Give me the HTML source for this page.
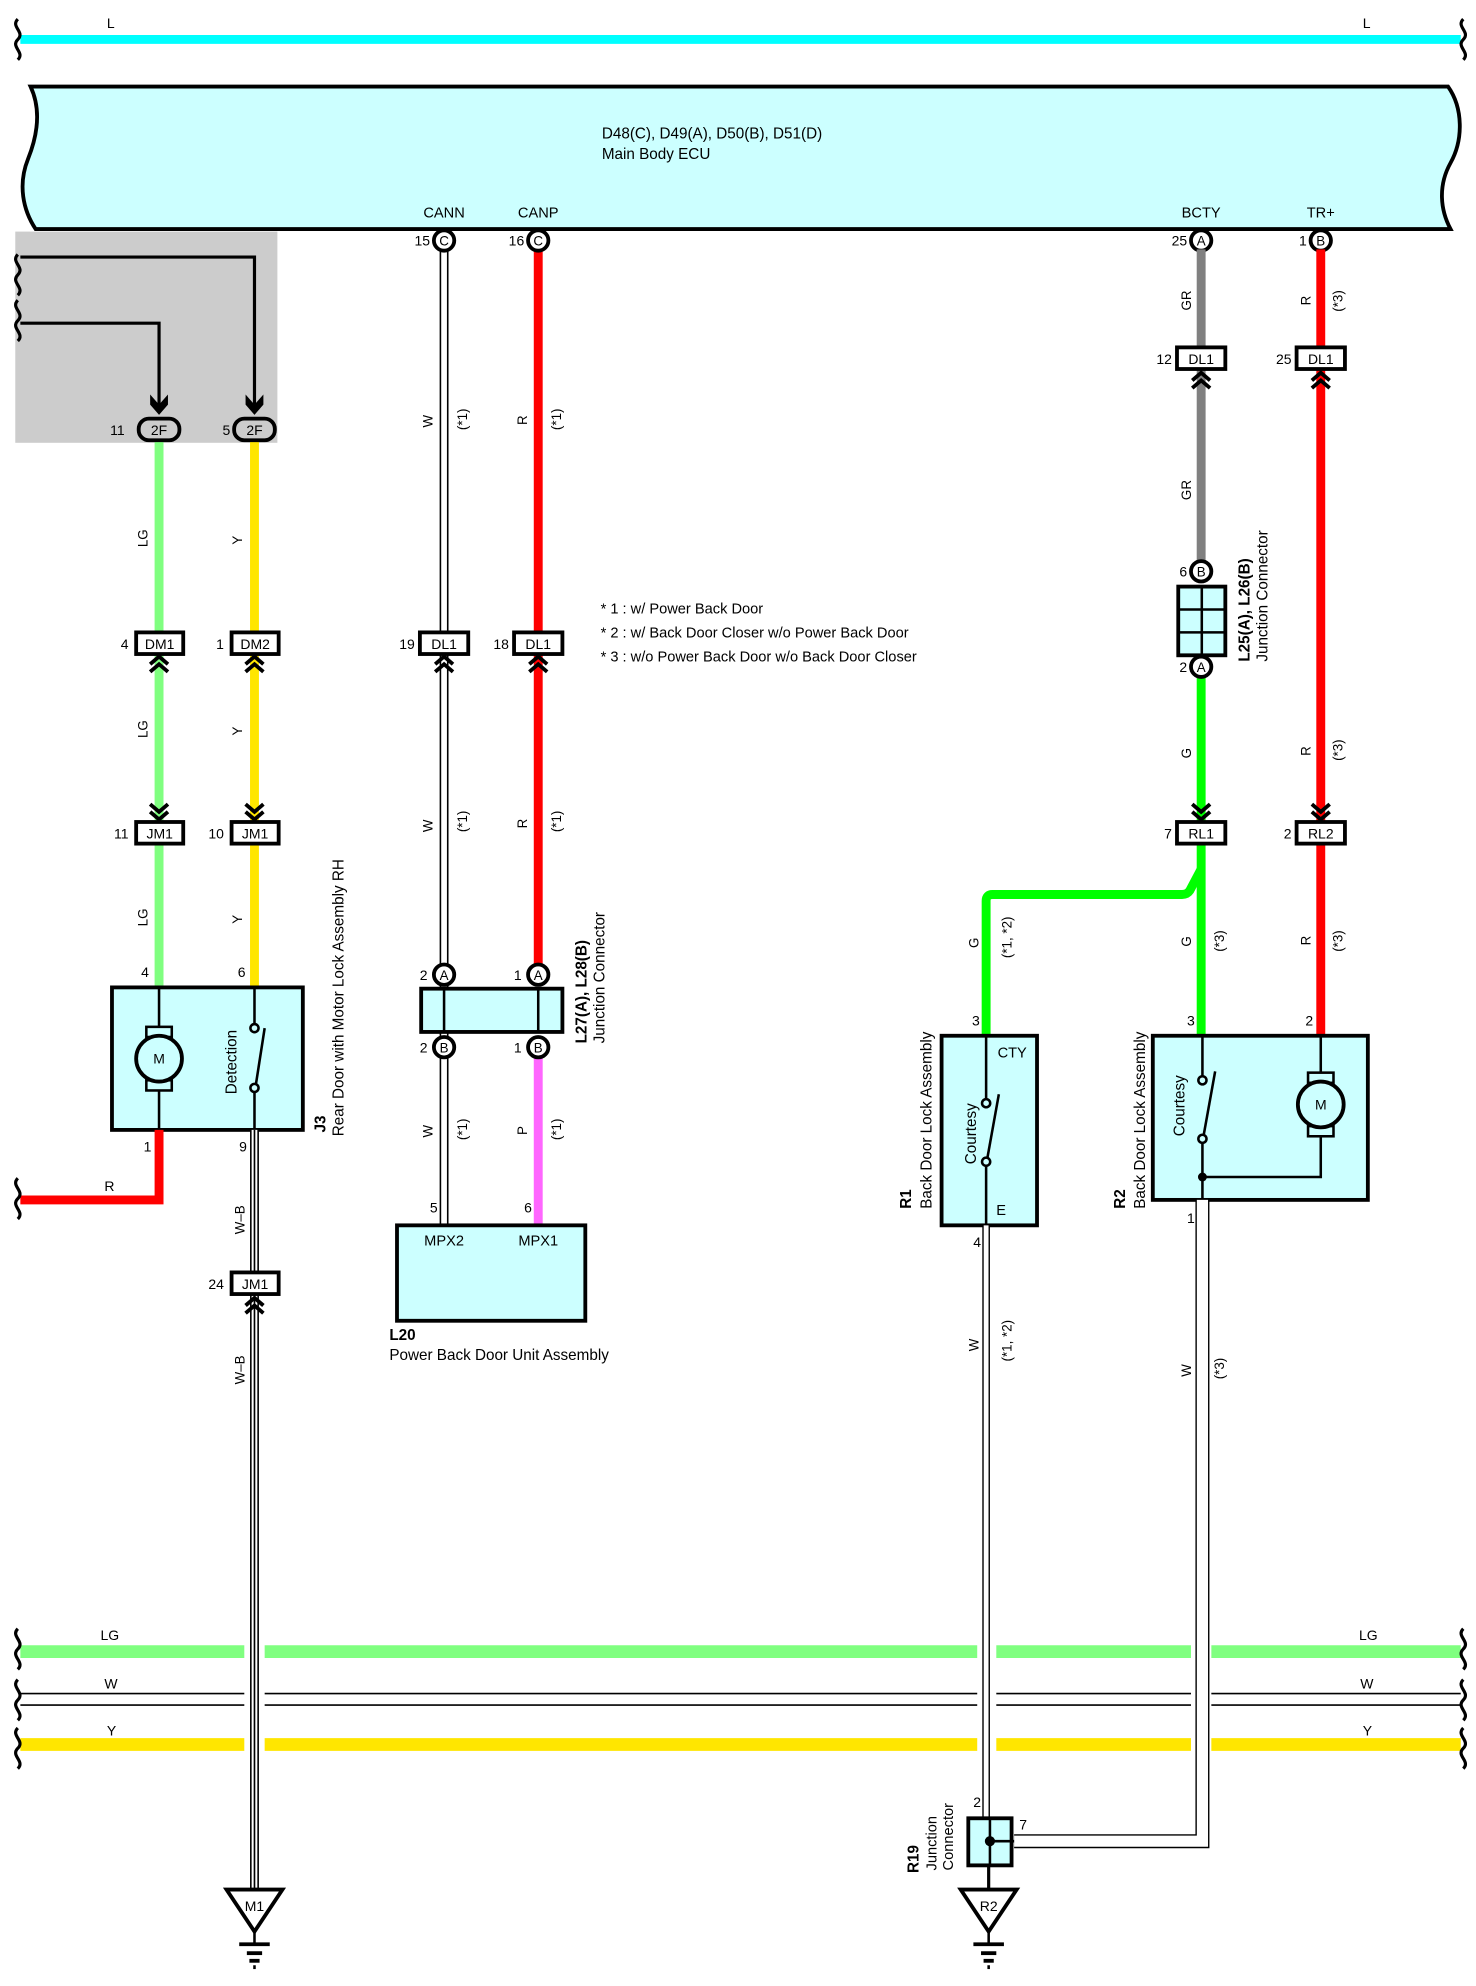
<!DOCTYPE html>
<html><head><meta charset="utf-8"><style>
html,body{margin:0;padding:0;background:#fff}
svg{display:block}
text{font-family:"Liberation Sans",sans-serif;fill:#000}
</style></head><body>
<svg width="1476" height="1986" viewBox="0 0 1160 1560.8" xmlns="http://www.w3.org/2000/svg">
<defs>
<path id="cu" d="M-7,7 L0,1 L7,7 M-7,13 L0,7 L7,13" fill="none" stroke="#000" stroke-width="3"/>
<path id="cd" d="M-7,-7 L0,-1 L7,-7 M-7,-13 L0,-7 L7,-13" fill="none" stroke="#000" stroke-width="3"/>
<path id="sq" d="M0,0 C-6,6 6,10 0,16 C-6,22 6,26 0,32" fill="none" stroke="#000" stroke-width="2.5"/>
</defs>

<line x1="16" y1="31" x2="1148" y2="31" stroke="#00ffff" stroke-width="7"/>
<use href="#sq" x="14" y="15"/><use href="#sq" x="1150" y="15"/>
<text x="84" y="22" font-size="11">L</text>
<text x="1071" y="22" font-size="11">L</text>

<path d="M24,68 L1138,68 C1150,85 1150,110 1140,128 C1130,146 1132,165 1140,180 L28,180 C18,165 14,145 22,125 C30,105 32,85 24,68 Z" fill="#ccffff" stroke="#000" stroke-width="3"/>
<text x="473" y="109" font-size="12">D48(C), D49(A), D50(B), D51(D)</text>
<text x="473" y="125" font-size="12">Main Body ECU</text>
<text x="349" y="171" font-size="11.5" text-anchor="middle">CANN</text>
<text x="423" y="171" font-size="11.5" text-anchor="middle">CANP</text>
<text x="944" y="171" font-size="11.5" text-anchor="middle">BCTY</text>
<text x="1038" y="171" font-size="11.5" text-anchor="middle">TR+</text>

<rect x="12" y="182" width="206" height="166" fill="#cccccc"/>
<use href="#sq" x="14" y="200"/><use href="#sq" x="14" y="236"/>
<polyline points="16,202 200,202 200,320" fill="none" stroke="#000" stroke-width="2.5"/>
<polyline points="16,254 125,254 125,320" fill="none" stroke="#000" stroke-width="2.5"/>
<path d="M118,310 L125,318 L132,310 L132,318 L125,326 L118,318Z" fill="#000"/>
<path d="M193,310 L200,318 L207,310 L207,318 L200,326 L193,318Z" fill="#000"/>

<line x1="125" y1="345" x2="125" y2="776" stroke="#80ff80" stroke-width="7"/>
<line x1="200" y1="345" x2="200" y2="776" stroke="#ffe600" stroke-width="7"/>
<rect x="109" y="329" width="32" height="17" rx="8" fill="#ccc" stroke="#000" stroke-width="3"/>
<rect x="184" y="329" width="32" height="17" rx="8" fill="#ccc" stroke="#000" stroke-width="3"/>
<text x="125" y="342" font-size="11" text-anchor="middle">2F</text>
<text x="200" y="342" font-size="11" text-anchor="middle">2F</text>
<text x="98" y="342" font-size="11" text-anchor="end">11</text>
<text x="181" y="342" font-size="11" text-anchor="end">5</text>

<g font-size="10.5">
<text transform="translate(116,430) rotate(-90)">LG</text>
<text transform="translate(116,580) rotate(-90)">LG</text>
<text transform="translate(116,728) rotate(-90)">LG</text>
<text transform="translate(190,428) rotate(-90)">Y</text>
<text transform="translate(190,578) rotate(-90)">Y</text>
<text transform="translate(190,726) rotate(-90)">Y</text>
</g>

<rect x="107" y="497" width="37" height="17" fill="#fff" stroke="#000" stroke-width="3"/>
<text x="125.5" y="510" font-size="11" text-anchor="middle">DM1</text>
<text x="101" y="510" font-size="11" text-anchor="end">4</text>
<rect x="182" y="497" width="37" height="17" fill="#fff" stroke="#000" stroke-width="3"/>
<text x="200.5" y="510" font-size="11" text-anchor="middle">DM2</text>
<text x="176" y="510" font-size="11" text-anchor="end">1</text>
<use href="#cu" x="125" y="515"/><use href="#cu" x="200" y="515"/>
<use href="#cd" x="125" y="645"/><use href="#cd" x="200" y="645"/>
<rect x="107" y="646" width="37" height="17" fill="#fff" stroke="#000" stroke-width="3"/>
<text x="125.5" y="659" font-size="11" text-anchor="middle">JM1</text>
<text x="101" y="659" font-size="11" text-anchor="end">11</text>
<rect x="182" y="646" width="37" height="17" fill="#fff" stroke="#000" stroke-width="3"/>
<text x="200.5" y="659" font-size="11" text-anchor="middle">JM1</text>
<text x="176" y="659" font-size="11" text-anchor="end">10</text>
<text x="117" y="768" font-size="11" text-anchor="end">4</text>
<text x="193" y="768" font-size="11" text-anchor="end">6</text>

<line x1="16" y1="1298" x2="1148" y2="1298" stroke="#80ff80" stroke-width="10"/>
<line x1="16" y1="1331" x2="1148" y2="1331" stroke="#000" stroke-width="1.3"/>
<line x1="16" y1="1340" x2="1148" y2="1340" stroke="#000" stroke-width="1.3"/>
<line x1="16" y1="1371" x2="1148" y2="1371" stroke="#ffe600" stroke-width="10"/>
<use href="#sq" x="14" y="1280"/><use href="#sq" x="14" y="1320"/><use href="#sq" x="14" y="1358"/>
<use href="#sq" x="1150" y="1280"/><use href="#sq" x="1150" y="1320"/><use href="#sq" x="1150" y="1358"/>
<g font-size="11">
<text x="79" y="1289">LG</text><text x="1068" y="1289">LG</text>
<text x="82" y="1327">W</text><text x="1069" y="1327">W</text>
<text x="84" y="1364">Y</text><text x="1071" y="1364">Y</text>
</g>

<rect x="192" y="1288" width="16" height="95" fill="#fff"/>
<rect x="768" y="1288" width="15" height="95" fill="#fff"/>
<rect x="936" y="1288" width="16" height="95" fill="#fff"/>

<rect x="88" y="776" width="150" height="112" fill="#ccffff" stroke="#000" stroke-width="3"/>
<line x1="125" y1="776" x2="125" y2="888" stroke="#000" stroke-width="2"/>
<rect x="115" y="807" width="20" height="8" fill="#ccffff" stroke="#000" stroke-width="2"/>
<rect x="115" y="849" width="20" height="8" fill="#ccffff" stroke="#000" stroke-width="2"/>
<circle cx="125" cy="832" r="18" fill="#ccffff" stroke="#000" stroke-width="3"/>
<text x="125" y="836" font-size="11" text-anchor="middle">M</text>
<line x1="200" y1="776" x2="200" y2="806" stroke="#000" stroke-width="2"/>
<circle cx="200" cy="808" r="3.2" fill="#ccffff" stroke="#000" stroke-width="2"/>
<line x1="201" y1="853" x2="208" y2="808" stroke="#000" stroke-width="2"/>
<circle cx="200" cy="855" r="3.2" fill="#ccffff" stroke="#000" stroke-width="2"/>
<line x1="200" y1="858" x2="200" y2="888" stroke="#000" stroke-width="2"/>
<text transform="translate(186,860) rotate(-90)" font-size="12">Detection</text>
<text transform="translate(256,890) rotate(-90)" font-size="12" font-weight="bold">J3</text>
<text transform="translate(270,893) rotate(-90)" font-size="12">Rear Door with Motor Lock Assembly RH</text>
<polyline points="125,888 125,943 16,943" fill="none" stroke="#ff0000" stroke-width="7"/>
<use href="#sq" x="14" y="926"/>
<text x="82" y="936" font-size="11">R</text>
<text x="119" y="905" font-size="11" text-anchor="end">1</text>
<text x="194" y="905" font-size="11" text-anchor="end">9</text>

<line x1="200" y1="888" x2="200" y2="1484" stroke="#000" stroke-width="7"/>
<line x1="200" y1="888" x2="200" y2="1484" stroke="#fff" stroke-width="4.5"/>
<line x1="200" y1="888" x2="200" y2="1484" stroke="#000" stroke-width="1.3"/>
<text transform="translate(192,970) rotate(-90)" font-size="10.5">W–B</text>
<text transform="translate(192,1088) rotate(-90)" font-size="10.5">W–B</text>
<rect x="182" y="1000" width="37" height="17" fill="#fff" stroke="#000" stroke-width="3"/>
<text x="200.5" y="1013" font-size="11" text-anchor="middle">JM1</text>
<text x="176" y="1013" font-size="11" text-anchor="end">24</text>
<use href="#cu" x="200" y="1019"/>
<path d="M178,1485 L222,1485 L200,1518 Z" fill="#fff" stroke="#000" stroke-width="3"/>
<text x="200" y="1502" font-size="11" text-anchor="middle">M1</text>
<line x1="200" y1="1518" x2="200" y2="1527" stroke="#000" stroke-width="2"/>
<line x1="188" y1="1528" x2="212" y2="1528" stroke="#000" stroke-width="3"/>
<line x1="194" y1="1535" x2="206" y2="1535" stroke="#000" stroke-width="3"/>
<line x1="196" y1="1541" x2="204" y2="1541" stroke="#000" stroke-width="3"/>
<line x1="199" y1="1546" x2="201" y2="1546" stroke="#000" stroke-width="3"/>

<line x1="349" y1="196" x2="349" y2="962" stroke="#000" stroke-width="7"/>
<line x1="349" y1="196" x2="349" y2="962" stroke="#fff" stroke-width="4.5"/>
<line x1="423" y1="196" x2="423" y2="770" stroke="#ff0000" stroke-width="7"/>
<line x1="423" y1="823" x2="423" y2="962" stroke="#ff66ff" stroke-width="7"/>
<g font-size="10.5">
<text transform="translate(340,336) rotate(-90)">W</text>
<text transform="translate(367,338) rotate(-90)">(*1)</text>
<text transform="translate(414,334) rotate(-90)">R</text>
<text transform="translate(441,338) rotate(-90)">(*1)</text>
<text transform="translate(340,654) rotate(-90)">W</text>
<text transform="translate(367,654) rotate(-90)">(*1)</text>
<text transform="translate(414,651) rotate(-90)">R</text>
<text transform="translate(441,654) rotate(-90)">(*1)</text>
<text transform="translate(340,894) rotate(-90)">W</text>
<text transform="translate(367,896) rotate(-90)">(*1)</text>
<text transform="translate(414,892) rotate(-90)">P</text>
<text transform="translate(441,896) rotate(-90)">(*1)</text>
</g>
<g stroke="#000" stroke-width="3" fill="#fff">
<circle cx="349" cy="189" r="8"/><circle cx="423" cy="189" r="8"/>
<circle cx="944" cy="189" r="8"/><circle cx="1038" cy="189" r="8"/>
</g>
<g font-size="10.5" text-anchor="middle">
<text x="349" y="193">C</text><text x="423" y="193">C</text>
<text x="944" y="193">A</text><text x="1038" y="193">B</text>
</g>
<g font-size="11" text-anchor="end">
<text x="338" y="193">15</text><text x="412" y="193">16</text>
<text x="933" y="193">25</text><text x="1027" y="193">1</text>
</g>
<rect x="330" y="497" width="38" height="17" fill="#fff" stroke="#000" stroke-width="3"/>
<text x="349" y="510" font-size="11" text-anchor="middle">DL1</text>
<text x="326" y="510" font-size="11" text-anchor="end">19</text>
<rect x="404" y="497" width="38" height="17" fill="#fff" stroke="#000" stroke-width="3"/>
<text x="423" y="510" font-size="11" text-anchor="middle">DL1</text>
<text x="400" y="510" font-size="11" text-anchor="end">18</text>
<use href="#cu" x="349" y="515"/><use href="#cu" x="423" y="515"/>
<rect x="331" y="777" width="111" height="34" fill="#ccffff" stroke="#000" stroke-width="3"/>
<line x1="349" y1="777" x2="349" y2="811" stroke="#000" stroke-width="2"/>
<line x1="423" y1="777" x2="423" y2="811" stroke="#000" stroke-width="2"/>
<g stroke="#000" stroke-width="3" fill="#fff">
<circle cx="349" cy="766" r="8"/><circle cx="423" cy="766" r="8"/>
<circle cx="349" cy="823" r="8"/><circle cx="423" cy="823" r="8"/>
</g>
<g font-size="10.5" text-anchor="middle">
<text x="349" y="770">A</text><text x="423" y="770">A</text>
<text x="349" y="827">B</text><text x="423" y="827">B</text>
</g>
<g font-size="11" text-anchor="end">
<text x="336" y="770">2</text><text x="410" y="770">1</text>
<text x="336" y="827">2</text><text x="410" y="827">1</text>
<text x="344" y="953">5</text><text x="418" y="953">6</text>
</g>
<text transform="translate(461,820) rotate(-90)" font-size="12" font-weight="bold">L27(A), L28(B)</text>
<text transform="translate(475,820) rotate(-90)" font-size="12">Junction Connector</text>
<rect x="312" y="963" width="148" height="75" fill="#ccffff" stroke="#000" stroke-width="3"/>
<text x="349" y="979" font-size="11.5" text-anchor="middle">MPX2</text>
<text x="423" y="979" font-size="11.5" text-anchor="middle">MPX1</text>
<text x="306" y="1053" font-size="12" font-weight="bold">L20</text>
<text x="306" y="1069" font-size="12">Power Back Door Unit Assembly</text>

<g font-size="11.5">
<text x="472" y="482">* 1 : w/ Power Back Door</text>
<text x="472" y="501">* 2 : w/ Back Door Closer w/o Power Back Door</text>
<text x="472" y="520">* 3 : w/o Power Back Door w/o Back Door Closer</text>
</g>

<line x1="944" y1="196" x2="944" y2="448" stroke="#808080" stroke-width="7"/>
<line x1="944" y1="532" x2="944" y2="813" stroke="#00ff00" stroke-width="7"/>
<path d="M944,683 L935,700 Q933,703 929,703 L780,703 Q775,703 775,708 L775,813" fill="none" stroke="#00ff00" stroke-width="7"/>
<line x1="1038" y1="196" x2="1038" y2="813" stroke="#ff0000" stroke-width="7"/>
<g font-size="10.5">
<text transform="translate(936,244) rotate(-90)">GR</text>
<text transform="translate(936,393) rotate(-90)">GR</text>
<text transform="translate(1030,240) rotate(-90)">R</text>
<text transform="translate(1055,245) rotate(-90)">(*3)</text>
<text transform="translate(936,596) rotate(-90)">G</text>
<text transform="translate(1030,594) rotate(-90)">R</text>
<text transform="translate(1055,598) rotate(-90)">(*3)</text>
<text transform="translate(936,744) rotate(-90)">G</text>
<text transform="translate(962,748) rotate(-90)">(*3)</text>
<text transform="translate(1030,743) rotate(-90)">R</text>
<text transform="translate(1055,748) rotate(-90)">(*3)</text>
<text transform="translate(769,745) rotate(-90)">G</text>
<text transform="translate(795,753) rotate(-90)">(*1, *2)</text>
<text transform="translate(769,1062) rotate(-90)">W</text>
<text transform="translate(795,1070) rotate(-90)">(*1, *2)</text>
<text transform="translate(936,1082) rotate(-90)">W</text>
<text transform="translate(962,1084) rotate(-90)">(*3)</text>
</g>
<rect x="925" y="273" width="38" height="17" fill="#fff" stroke="#000" stroke-width="3"/>
<text x="944" y="286" font-size="11" text-anchor="middle">DL1</text>
<text x="921" y="286" font-size="11" text-anchor="end">12</text>
<rect x="1019" y="273" width="38" height="17" fill="#fff" stroke="#000" stroke-width="3"/>
<text x="1038" y="286" font-size="11" text-anchor="middle">DL1</text>
<text x="1015" y="286" font-size="11" text-anchor="end">25</text>
<use href="#cu" x="944" y="292"/><use href="#cu" x="1038" y="292"/>
<rect x="926" y="461" width="37" height="54" fill="#ccffff" stroke="#000" stroke-width="3"/>
<line x1="944.5" y1="461" x2="944.5" y2="515" stroke="#000" stroke-width="2"/>
<line x1="926" y1="479" x2="963" y2="479" stroke="#000" stroke-width="2"/>
<line x1="926" y1="497" x2="963" y2="497" stroke="#000" stroke-width="2"/>
<g stroke="#000" stroke-width="3" fill="#fff">
<circle cx="944" cy="449" r="8"/><circle cx="944" cy="524" r="8"/>
</g>
<text x="944" y="453" font-size="10.5" text-anchor="middle">B</text>
<text x="944" y="528" font-size="10.5" text-anchor="middle">A</text>
<text x="933" y="453" font-size="11" text-anchor="end">6</text>
<text x="933" y="528" font-size="11" text-anchor="end">2</text>
<text transform="translate(982,520) rotate(-90)" font-size="12" font-weight="bold">L25(A), L26(B)</text>
<text transform="translate(996,520) rotate(-90)" font-size="12">Junction Connector</text>
<use href="#cd" x="944" y="645"/><use href="#cd" x="1038" y="645"/>
<rect x="925" y="646" width="38" height="17" fill="#fff" stroke="#000" stroke-width="3"/>
<text x="944" y="659" font-size="11" text-anchor="middle">RL1</text>
<text x="921" y="659" font-size="11" text-anchor="end">7</text>
<rect x="1019" y="646" width="38" height="17" fill="#fff" stroke="#000" stroke-width="3"/>
<text x="1038" y="659" font-size="11" text-anchor="middle">RL2</text>
<text x="1015" y="659" font-size="11" text-anchor="end">2</text>

<rect x="740" y="814" width="75" height="149" fill="#ccffff" stroke="#000" stroke-width="3"/>
<line x1="775" y1="814" x2="775" y2="864" stroke="#000" stroke-width="2"/>
<circle cx="775" cy="867" r="3.2" fill="#ccffff" stroke="#000" stroke-width="2"/>
<line x1="776" y1="910" x2="785" y2="860" stroke="#000" stroke-width="2"/>
<circle cx="775" cy="913" r="3.2" fill="#ccffff" stroke="#000" stroke-width="2"/>
<line x1="775" y1="916" x2="775" y2="963" stroke="#000" stroke-width="2"/>
<text x="784" y="831" font-size="11.5">CTY</text>
<text x="783" y="955" font-size="11.5">E</text>
<text transform="translate(767,915) rotate(-90)" font-size="12">Courtesy</text>
<text transform="translate(716,950) rotate(-90)" font-size="12" font-weight="bold">R1</text>
<text transform="translate(732,950) rotate(-90)" font-size="12">Back Door Lock Assembly</text>
<text x="770" y="806" font-size="11" text-anchor="end">3</text>
<text x="771" y="980" font-size="11" text-anchor="end">4</text>
<line x1="775" y1="963" x2="775" y2="1428" stroke="#000" stroke-width="6"/>
<line x1="775" y1="963" x2="775" y2="1428" stroke="#fff" stroke-width="3.8"/>

<rect x="906" y="814" width="169" height="129" fill="#ccffff" stroke="#000" stroke-width="3"/>
<line x1="945" y1="814" x2="945" y2="846" stroke="#000" stroke-width="2"/>
<circle cx="945" cy="849" r="3.2" fill="#ccffff" stroke="#000" stroke-width="2"/>
<line x1="946" y1="892" x2="955" y2="842" stroke="#000" stroke-width="2"/>
<circle cx="945" cy="895" r="3.2" fill="#ccffff" stroke="#000" stroke-width="2"/>
<line x1="945" y1="898" x2="945" y2="943" stroke="#000" stroke-width="2"/>
<circle cx="945" cy="925" r="3.5" fill="#000"/>
<polyline points="945,925 1038,925 1038,814" fill="none" stroke="#000" stroke-width="2"/>
<rect x="1028" y="843" width="20" height="8" fill="#ccffff" stroke="#000" stroke-width="2"/>
<rect x="1028" y="885" width="20" height="8" fill="#ccffff" stroke="#000" stroke-width="2"/>
<circle cx="1038" cy="868" r="18" fill="#ccffff" stroke="#000" stroke-width="3"/>
<text x="1038" y="872" font-size="11" text-anchor="middle">M</text>
<text transform="translate(931,893) rotate(-90)" font-size="12">Courtesy</text>
<text transform="translate(884,950) rotate(-90)" font-size="12" font-weight="bold">R2</text>
<text transform="translate(900,950) rotate(-90)" font-size="12">Back Door Lock Assembly</text>
<text x="939" y="806" font-size="11" text-anchor="end">3</text>
<text x="1032" y="806" font-size="11" text-anchor="end">2</text>
<text x="939" y="961" font-size="11" text-anchor="end">1</text>
<path d="M945,943 L945,1447 L797,1447" fill="none" stroke="#000" stroke-width="11"/>
<path d="M945,943 L945,1447 L797,1447" fill="none" stroke="#fff" stroke-width="8.8"/>

<rect x="761" y="1429" width="34" height="37" fill="#ccffff" stroke="#000" stroke-width="3"/>
<line x1="778" y1="1429" x2="778" y2="1466" stroke="#000" stroke-width="2"/>
<line x1="778" y1="1447" x2="797" y2="1447" stroke="#000" stroke-width="2"/>
<circle cx="778" cy="1447" r="4" fill="#000"/>
<line x1="777" y1="1466" x2="777" y2="1485" stroke="#000" stroke-width="2.5"/>
<text x="771" y="1420" font-size="11" text-anchor="end">2</text>
<text x="801" y="1438" font-size="11">7</text>
<text transform="translate(722,1472) rotate(-90)" font-size="12" font-weight="bold">R19</text>
<text transform="translate(736,1470) rotate(-90)" font-size="11.5">Junction</text>
<text transform="translate(749,1470) rotate(-90)" font-size="11.5">Connector</text>
<path d="M755,1485 L799,1485 L777,1518 Z" fill="#fff" stroke="#000" stroke-width="3"/>
<text x="777" y="1502" font-size="11" text-anchor="middle">R2</text>
<line x1="777" y1="1518" x2="777" y2="1527" stroke="#000" stroke-width="2"/>
<line x1="765" y1="1528" x2="789" y2="1528" stroke="#000" stroke-width="3"/>
<line x1="771" y1="1535" x2="783" y2="1535" stroke="#000" stroke-width="3"/>
<line x1="773" y1="1541" x2="781" y2="1541" stroke="#000" stroke-width="3"/>
<line x1="776" y1="1546" x2="778" y2="1546" stroke="#000" stroke-width="3"/>
</svg>
</body></html>
